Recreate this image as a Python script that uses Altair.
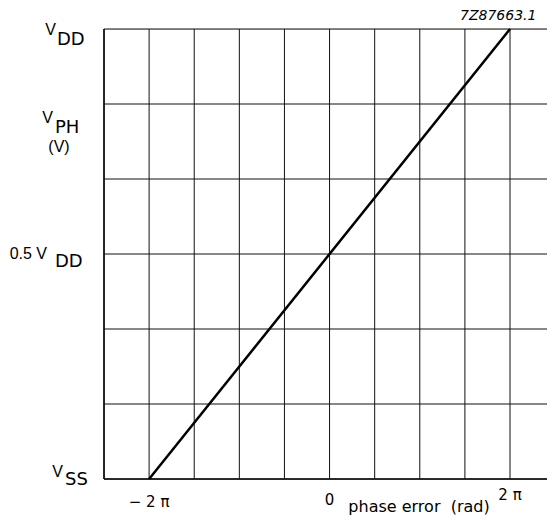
import altair as alt
import pandas as pd

# ---- data (x in units of pi, y as fraction of VSS..VDD) ----
x_grid = [-2.5, -2.0, -1.5, -1.0, -0.5, 0.0, 0.5, 1.0, 1.5, 2.0]
y_grid = [0.0, 1 / 6, 2 / 6, 3 / 6, 4 / 6, 5 / 6, 1.0]
line_x = [-2.0, 2.0]
line_y = [0.0, 1.0]
x_tick_pos = [-2.0, 0.0, 2.0]
x_tick_text = ["\u2212 2 \u03c0", "0", "2 \u03c0"]
y_label_pos = [1.0, 0.5, 0.0]
y_label_main = ["V", "0.5 V", "V"]
y_label_sub = ["DD", "DD", "SS"]
x_title = "phase error\u00a0 (rad)"
y_title_main = "V"
y_title_sub = "PH"
y_title_unit = "(V)"
code_label = "7Z87663.1"
x_domain = [-2.5, 2.41]   # visible range (right part cropped in the original)

FONT = "DejaVu Sans"
FONT_MAIN = "Liberation Sans"
W, H = 443, 450
xs = alt.Scale(domain=x_domain, nice=False, zero=False)
ys = alt.Scale(domain=[0.0, 1.0], nice=False, zero=False)

vgrid = alt.Chart(pd.DataFrame({"x": x_grid})).mark_rule(color="#111", strokeWidth=1).encode(
    x=alt.X("x:Q", scale=xs, axis=None), y=alt.value(0), y2=alt.value(H))
hgrid = alt.Chart(pd.DataFrame({"y": y_grid})).mark_rule(color="#111", strokeWidth=1).encode(
    y=alt.Y("y:Q", scale=ys, axis=None), x=alt.value(0), x2=alt.value(W))
border = alt.Chart(pd.DataFrame({"x": [x_grid[0]], "y": [y_grid[0]]}))
left_edge = border.mark_rule(color="#111", strokeWidth=1.6).encode(
    x=alt.X("x:Q", scale=xs, axis=None), y=alt.value(0), y2=alt.value(H))
bottom_edge = border.mark_rule(color="#111", strokeWidth=1.6).encode(
    y=alt.Y("y:Q", scale=ys, axis=None), x=alt.value(0), x2=alt.value(W))

line = alt.Chart(pd.DataFrame({"x": line_x, "y": line_y})).mark_line(
    color="black", strokeWidth=2.5
).encode(
    x=alt.X("x:Q", scale=xs, axis=None),
    y=alt.Y("y:Q", scale=ys, axis=None),
)

layers = [vgrid, hgrid, left_edge, bottom_edge, line]

# y-axis labels with subscripts
main_x = [-48, -57, -41]
main_size = [16, 16, 16]
sub_x = [-47, -49, -39]
main_dy = [6, 5, -2]
sub_dy = [16, 13, 6]
for i in range(len(y_label_pos)):
    df = pd.DataFrame({"y": [y_label_pos[i]], "m": [y_label_main[i]], "s": [y_label_sub[i]]})
    base = alt.Chart(df)
    layers.append(base.mark_text(align="right", baseline="alphabetic", font=FONT_MAIN,
                                 fontSize=main_size[i], dy=main_dy[i], color="black").encode(
        x=alt.value(main_x[i]), y=alt.Y("y:Q", scale=ys, axis=None), text="m:N"))
    layers.append(base.mark_text(align="left", baseline="alphabetic", font=FONT,
                                 fontSize=18, dy=sub_dy[i], color="black").encode(
        x=alt.value(sub_x[i]), y=alt.Y("y:Q", scale=ys, axis=None), text="s:N"))

# x tick labels
tick_y = [478, 476, 471]
for i in range(len(x_tick_pos)):
    df = pd.DataFrame({"x": [x_tick_pos[i]], "t": [x_tick_text[i]]})
    layers.append(alt.Chart(df).mark_text(align="center", baseline="alphabetic", font=FONT,
                                          fontSize=15, color="black").encode(
        x=alt.X("x:Q", scale=xs, axis=None), y=alt.value(tick_y[i]), text="t:N"))

# axis titles and code label
def label(txt, x, y, size, align="left", style="normal", font=FONT):
    return alt.Chart(pd.DataFrame({"t": [txt]})).mark_text(
        align=align, baseline="alphabetic", font=font, fontSize=size,
        fontStyle=style, color="black").encode(
        x=alt.value(x), y=alt.value(y), text="t:N")

layers.append(label(x_title, 315, 483, 16, align="center"))
layers.append(label(y_title_main, -51, 94, 16, align="right", font=FONT_MAIN))
layers.append(label(y_title_sub, -49, 104, 18))
layers.append(label(y_title_unit, -45, 123, 16, align="center", font=FONT_MAIN))
layers.append(label(code_label, 356, -9, 14, style="italic"))

chart = alt.layer(*layers).properties(
    width=W, height=H,
    autosize=alt.AutoSizeParams(type="none"),
    padding={"left": 96, "top": 21, "right": 0, "bottom": 37},
).configure_view(stroke=None).configure(background="white")

chart.save("out.html", embed_options={"renderer": "svg", "actions": False})
